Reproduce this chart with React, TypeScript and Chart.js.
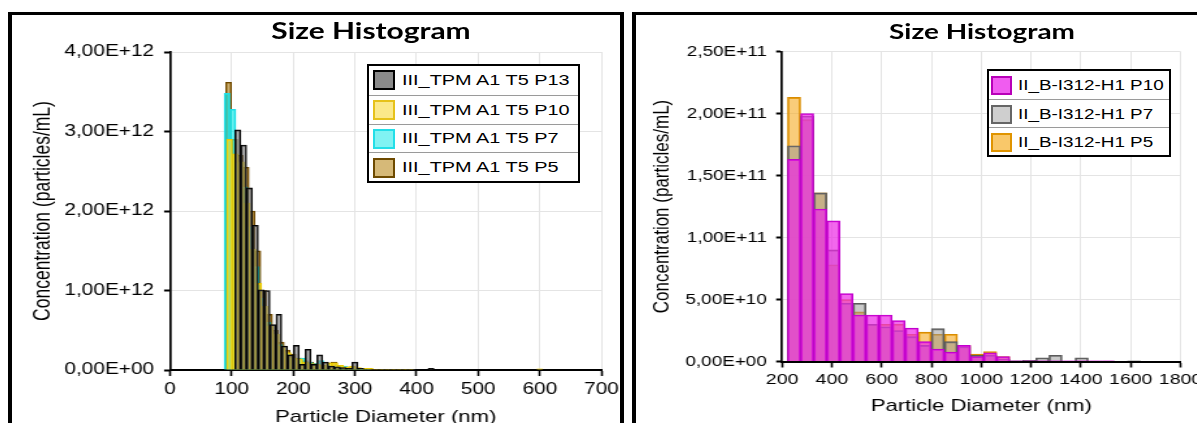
import React, { useEffect, useRef } from "react";
import { Chart, registerables } from "chart.js";

Chart.register(...registerables);

// ---------------- LEFT PANEL DATA ----------------
const leftTitle = "Size Histogram";
const leftXTitle = "Particle Diameter (nm)";
const leftYTitle = "Concentration (particles/mL)";
const leftXMin = 0;
const leftXMax = 700;
const leftXStep = 100;
const leftYMax = 4e12;
const leftYStep = 1e12;

const leftP13Label = "III_TPM A1 T5 P13";
const leftP13Diameter = [110, 119.5, 129, 138.5, 148, 157.5, 167, 176.5, 186, 195.5, 205, 214.5, 224, 233.5, 243, 252.5, 262, 271.5, 281, 290.5, 300, 309.5, 319, 328.5, 338, 347.5, 357, 366.5, 376, 385.5, 395, 404.5, 414, 423.5];
const leftP13Conc = [3.02e12, 2.83e12, 2.29e12, 1.82e12, 1.01e12, 1.0e12, 0.57e12, 0.7e12, 0.3e12, 0.19e12, 0.31e12, 0.07e12, 0.26e12, 0.07e12, 0.19e12, 0.1e12, 0.05e12, 0.04e12, 0.03e12, 0.02e12, 0.1e12, 0.02e12, 0.01e12, 0.01e12, 0.01e12, 0.01e12, 0.01e12, 0.01e12, 0.01e12, 0.01e12, 0.01e12, 0, 0, 0.02e12];

const leftP10Label = "III_TPM A1 T5 P10";
const leftP10Diameter = [96.5, 106, 115.5, 125, 134.5, 144, 153.5, 163, 172.5, 182, 191.5, 201, 210.5, 220, 229.5, 239, 248.5, 258, 267.5, 277, 286.5, 296, 305.5, 315, 324.5, 334, 343.5, 353, 362.5, 372, 381.5, 391, 400.5, 410, 419.5, 429, 438.5, 448, 457.5, 467, 476.5, 486, 495.5, 505, 514.5, 524, 533.5, 543, 552.5, 562, 571.5, 581, 590.5, 600];
const leftP10Conc = [2.9e12, 2.72e12, 2.62e12, 2.1e12, 1.52e12, 1.09e12, 0.8e12, 0.55e12, 0.45e12, 0.3e12, 0.22e12, 0.15e12, 0.14e12, 0.1e12, 0.08e12, 0.07e12, 0.06e12, 0.09e12, 0.09e12, 0.06e12, 0.04e12, 0.05e12, 0.03e12, 0.02e12, 0.02e12, 0.01e12, 0.01e12, 0.01e12, 0.01e12, 0.01e12, 0.01e12, 0.01e12, 0, 0, 0, 0, 0, 0, 0, 0, 0, 0, 0, 0, 0, 0, 0, 0, 0, 0, 0, 0, 0, 0.015e12];

const leftP7Label = "III_TPM A1 T5 P7";
const leftP7Diameter = [92.5, 102, 111.5, 121, 130.5, 140, 149.5, 159, 168.5, 178, 187.5, 197, 206.5, 216, 225.5, 235, 244.5, 254, 263.5, 273, 282.5, 292, 301.5, 311, 320.5];
const leftP7Conc = [3.48e12, 3.28e12, 2.6e12, 2.3e12, 1.8e12, 1.3e12, 0.9e12, 0.6e12, 0.4e12, 0.32e12, 0.2e12, 0.15e12, 0.12e12, 0.15e12, 0.1e12, 0.08e12, 0.12e12, 0.06e12, 0.05e12, 0.04e12, 0.05e12, 0.03e12, 0.02e12, 0.01e12, 0.01e12];

const leftP5Label = "III_TPM A1 T5 P5";
const leftP5Diameter = [95, 104.5, 114, 123.5, 133, 142.5, 152, 161.5, 171, 180.5, 190, 199.5, 209, 218.5, 228, 237.5, 247, 256.5, 266, 275.5, 285, 294.5, 304, 313.5, 323];
const leftP5Conc = [3.62e12, 2.9e12, 2.7e12, 2.55e12, 2.0e12, 1.5e12, 1.0e12, 0.7e12, 0.5e12, 0.35e12, 0.25e12, 0.2e12, 0.15e12, 0.12e12, 0.1e12, 0.08e12, 0.06e12, 0.05e12, 0.1e12, 0.06e12, 0.04e12, 0.03e12, 0.02e12, 0.01e12, 0.01e12];

// ---------------- RIGHT PANEL DATA ----------------
const rightTitle = "Size Histogram";
const rightXTitle = "Particle Diameter (nm)";
const rightYTitle = "Concentration (particles/mL)";
const rightXMin = 200;
const rightXMax = 1800;
const rightXStep = 200;
const rightYMax = 2.5e11;
const rightYStep = 5e10;

const rightBinCenters = [248, 300.5, 353, 405.5, 458, 510.5, 563, 615.5, 668, 720.5, 773, 825.5, 878, 930.5, 983, 1035.5, 1088, 1140.5, 1193, 1245.5, 1298, 1350.5, 1403, 1455.5, 1508, 1560.5, 1613];

const rightP10Label = "II_B-I312-H1 P10";
const rightP10Conc = [1.63e11, 2.0e11, 1.23e11, 1.135e11, 0.548e11, 0.375e11, 0.375e11, 0.375e11, 0.33e11, 0.27e11, 0.16e11, 0.1e11, 0.075e11, 0.13e11, 0.04e11, 0.07e11, 0.04e11, 0.005e11, 0.005e11, 0.005e11, 0.005e11, 0.005e11, 0.005e11, 0.005e11, 0.005e11, 0, 0];

const rightP7Label = "II_B-I312-H1 P7";
const rightP7Conc = [1.74e11, 1.98e11, 1.36e11, 0.9e11, 0.47e11, 0.47e11, 0.3e11, 0.28e11, 0.25e11, 0.2e11, 0.13e11, 0.265e11, 0.16e11, 0.12e11, 0.05e11, 0.05e11, 0.02e11, 0.005e11, 0.01e11, 0.03e11, 0.05e11, 0, 0.03e11, 0, 0, 0, 0.005e11];

const rightP5Label = "II_B-I312-H1 P5";
const rightP5Conc = [2.13e11, 1.95e11, 1.36e11, 0.78e11, 0.5e11, 0.4e11, 0.3e11, 0.3e11, 0.3e11, 0.22e11, 0.237e11, 0.22e11, 0.22e11, 0.13e11, 0.06e11, 0.08e11, 0.04e11, 0, 0, 0, 0, 0, 0, 0, 0, 0, 0];

// ---------------- STYLE ----------------
const X_STRETCH = 1.3;
const FONT = "'Liberation Sans', Arial, Helvetica, sans-serif";
const TITLE_FONT = "Lato, 'Open Sans', sans-serif";

function fmtSci(v: number): string {
  if (Math.abs(v) < 1e-6) return "0,00E+00";
  const [m, e] = v.toExponential(2).split("e");
  const n = parseInt(e, 10);
  return m.replace(".", ",") + "E" + (n < 0 ? "-" : "+") + String(Math.abs(n)).padStart(2, "0");
}

type SeriesStyle = {
  label: string;
  xs: number[];
  ys: number[];
  fill: string;
  border: string;
  borderWidth: number;
  swatchFill: string;
  swatchBorder: string;
};

const leftSeries: SeriesStyle[] = [
  { label: leftP13Label, xs: leftP13Diameter, ys: leftP13Conc, fill: "rgba(120,120,120,0.5)", border: "#000000", borderWidth: 1.1, swatchFill: "#8a8a8a", swatchBorder: "#000000" },
  { label: leftP10Label, xs: leftP10Diameter, ys: leftP10Conc, fill: "rgba(255,228,40,0.6)", border: "#e8c800", borderWidth: 1, swatchFill: "#fbe98a", swatchBorder: "#e6c21a" },
  { label: leftP7Label, xs: leftP7Diameter, ys: leftP7Conc, fill: "rgba(20,230,230,0.65)", border: "#20dde6", borderWidth: 1, swatchFill: "#80f3f3", swatchBorder: "#22dfe8" },
  { label: leftP5Label, xs: leftP5Diameter, ys: leftP5Conc, fill: "rgba(170,125,30,0.6)", border: "#6e4800", borderWidth: 1, swatchFill: "#d6b978", swatchBorder: "#6e4a00" },
];

const rightSeries: SeriesStyle[] = [
  { label: rightP10Label, xs: rightBinCenters, ys: rightP10Conc, fill: "rgba(236,40,230,0.7)", border: "#c000cc", borderWidth: 1.2, swatchFill: "#f05cf0", swatchBorder: "#b800b8" },
  { label: rightP7Label, xs: rightBinCenters, ys: rightP7Conc, fill: "rgba(150,150,150,0.5)", border: "#5a5a5a", borderWidth: 1.2, swatchFill: "#cfcfcf", swatchBorder: "#666666" },
  { label: rightP5Label, xs: rightBinCenters, ys: rightP5Conc, fill: "rgba(246,172,40,0.62)", border: "#d88c00", borderWidth: 1.2, swatchFill: "#f9c86a", swatchBorder: "#e09400" },
];

type PanelCfg = {
  series: SeriesStyle[];
  xMin: number; xMax: number; xStep: number;
  yMax: number; yStep: number;
  xTitle: string; yTitle: string;
  canvasLeft: number; canvasTop: number; width: number; height: number;
  padTop: number; padRight: number;
  yAxisWidth: number; xAxisHeight: number;
  yTitleFont: number; yTitlePad: number;
  xTitleFont: number; xTitlePad: number;
  yTickFont: number; yTickLen: number; yTickPad: number;
  xTickFont: number; xTickLen: number; xTickPad: number;
};

function HistogramCanvas({ cfg }: { cfg: PanelCfg }) {
  const ref = useRef<HTMLCanvasElement | null>(null);
  useEffect(() => {
    const canvas = ref.current;
    if (!canvas) return;
    const scales: any = {
      x: {
        type: "linear", position: "bottom", min: cfg.xMin, max: cfg.xMax, offset: false,
        ticks: { stepSize: cfg.xStep, color: "#000", font: { family: FONT, size: cfg.xTickFont }, padding: cfg.xTickPad, maxRotation: 0, autoSkip: false, callback: (v: any) => String(Math.round(Number(v))) },
        grid: { offset: false, color: "#e4e4e4", lineWidth: 1, tickColor: "#000", tickLength: cfg.xTickLen, tickWidth: 1.6 },
        border: { color: "#000", width: 2 },
        title: { display: true, text: cfg.xTitle, color: "#000", font: { family: FONT, size: cfg.xTitleFont }, padding: { top: 0, bottom: cfg.xTitlePad } },
        afterFit: (s: any) => { s.height = cfg.xAxisHeight; },
      },
      y: {
        type: "linear", position: "left", min: 0, max: cfg.yMax,
        ticks: { stepSize: cfg.yStep, color: "#000", font: { family: FONT, size: cfg.yTickFont }, padding: cfg.yTickPad, callback: (v: any) => fmtSci(Number(v)) },
        grid: { color: "#e4e4e4", lineWidth: 1, tickColor: "#000", tickLength: cfg.yTickLen, tickWidth: 2 },
        border: { color: "#000", width: 1.7 },
        title: { display: true, text: cfg.yTitle, color: "#000", font: { family: FONT, size: cfg.yTitleFont }, padding: { top: cfg.yTitlePad, bottom: 0 } },
        afterFit: (s: any) => { s.width = cfg.yAxisWidth; },
      },
    };
    const datasets = cfg.series.map((s, i) => {
      const axisId = i === 0 ? "x" : "xh" + i;
      if (i > 0) {
        scales[axisId] = { type: "linear", display: false, min: cfg.xMin, max: cfg.xMax, offset: false, grid: { offset: false } };
      }
      return {
        label: s.label,
        data: s.xs.map((x, k) => ({ x, y: s.ys[k] })),
        xAxisID: axisId,
        yAxisID: "y",
        backgroundColor: s.fill,
        borderColor: s.border,
        borderWidth: s.borderWidth,
        borderSkipped: "start",
        barPercentage: 1,
        categoryPercentage: 1,
        grouped: false,
      };
    });
    const chart = new Chart(canvas, {
      type: "bar",
      data: { datasets } as any,
      options: {
        animation: false,
        responsive: false,
        devicePixelRatio: 1,
        layout: { padding: { top: cfg.padTop, right: cfg.padRight, left: 0, bottom: 0 } },
        plugins: { legend: { display: false }, title: { display: false }, tooltip: { enabled: false } },
        scales,
      } as any,
    });
    return () => chart.destroy();
  }, [cfg]);
  return (
    <canvas
      ref={ref}
      width={cfg.width}
      height={cfg.height}
      style={{ position: "absolute", left: cfg.canvasLeft, top: cfg.canvasTop, width: cfg.width * X_STRETCH + "px", height: cfg.height + "px" }}
    />
  );
}

function Legend(props: { left: number; top: number; width: number; rowHeight: number; series: SeriesStyle[]; fontSize: number; swatchLeft: number; swatchW: number; swatchH: number; textLeft: number }) {
  const { left, top, width, rowHeight, series, fontSize, swatchLeft, swatchW, swatchH, textLeft } = props;
  return (
    <div style={{ position: "absolute", left, top, width, border: "2px solid #000", background: "#fff", boxSizing: "border-box" }}>
      {series.map((s, i) => (
        <div key={i} style={{ position: "relative", height: rowHeight, borderTop: i ? "1px solid #9a9a9a" : "none", boxSizing: "border-box" }}>
          <div style={{ position: "absolute", left: swatchLeft, top: (rowHeight - swatchH) / 2, width: swatchW, height: swatchH, background: s.swatchFill, border: `2px solid ${s.swatchBorder}`, boxSizing: "border-box" }} />
          <span style={{ position: "absolute", left: textLeft, top: "50%", transform: `translateY(-50%) scaleX(${X_STRETCH})`, transformOrigin: "left center", font: `${fontSize}px ${FONT}`, lineHeight: 1, whiteSpace: "nowrap", color: "#000" }}>{s.label}</span>
        </div>
      ))}
    </div>
  );
}

function Title(props: { cx: number; cy: number; text: string; size: number; stretch: number }) {
  return (
    <div style={{ position: "absolute", left: props.cx, top: props.cy, transform: `translate(-50%, -50%) scaleX(${props.stretch})`, font: `bold ${props.size}px ${TITLE_FONT}`, whiteSpace: "nowrap", color: "#000", lineHeight: 1 }}>{props.text}</div>
  );
}

const leftCfg: PanelCfg = {
  series: leftSeries, xMin: leftXMin, xMax: leftXMax, xStep: leftXStep, yMax: leftYMax, yStep: leftYStep,
  xTitle: leftXTitle, yTitle: leftYTitle,
  canvasLeft: 12, canvasTop: 15, width: 472, height: 430,
  padTop: 37, padRight: 18.9, yAxisWidth: 121.5, xAxisHeight: 75,
  yTitleFont: 17.5, yTitlePad: 13.3, xTitleFont: 17, xTitlePad: 17.8,
  yTickFont: 16, yTickLen: 4.6, yTickPad: 7.7, xTickFont: 16, xTickLen: 6, xTickPad: 4,
};

const rightCfg: PanelCfg = {
  series: rightSeries, xMin: rightXMin, xMax: rightXMax, xStep: rightXStep, yMax: rightYMax, yStep: rightYStep,
  xTitle: rightXTitle, yTitle: rightYTitle,
  canvasLeft: 636, canvasTop: 15, width: 445, height: 430,
  padTop: 36.5, padRight: 26.5, yAxisWidth: 112.3, xAxisHeight: 83.5,
  yTitleFont: 17, yTitlePad: 10.6, xTitleFont: 17, xTitlePad: 28.8,
  yTickFont: 14.5, yTickLen: 4.6, yTickPad: 7.2, xTickFont: 15, xTickLen: 6, xTickPad: 3,
};

export default function App() {
  return (
    <div style={{ position: "absolute", left: 0, top: 0, width: 1197, height: 423, overflow: "hidden", background: "#fff" }}>
      <div style={{ position: "absolute", left: 8, top: 12, width: 616, height: 460, borderStyle: "solid", borderColor: "#000", borderWidth: "3px 4px", boxSizing: "border-box" }} />
      <div style={{ position: "absolute", left: 632, top: 12, width: 640, height: 460, borderStyle: "solid", borderColor: "#000", borderWidth: "3px 4px", boxSizing: "border-box" }} />
      <HistogramCanvas cfg={leftCfg} />
      <HistogramCanvas cfg={rightCfg} />
      <Title cx={371} cy={31} text={leftTitle} size={22} stretch={1.36} />
      <Title cx={982} cy={31} text={rightTitle} size={20.5} stretch={1.36} />
      <Legend left={367} top={64} width={213} rowHeight={28.75} series={leftSeries} fontSize={15.3} swatchLeft={4} swatchW={22} swatchH={20} textLeft={32.7} />
      <Legend left={987} top={69} width={184} rowHeight={28} series={rightSeries} fontSize={14.5} swatchLeft={2} swatchW={21} swatchH={19} textLeft={28.7} />
    </div>
  );
}
